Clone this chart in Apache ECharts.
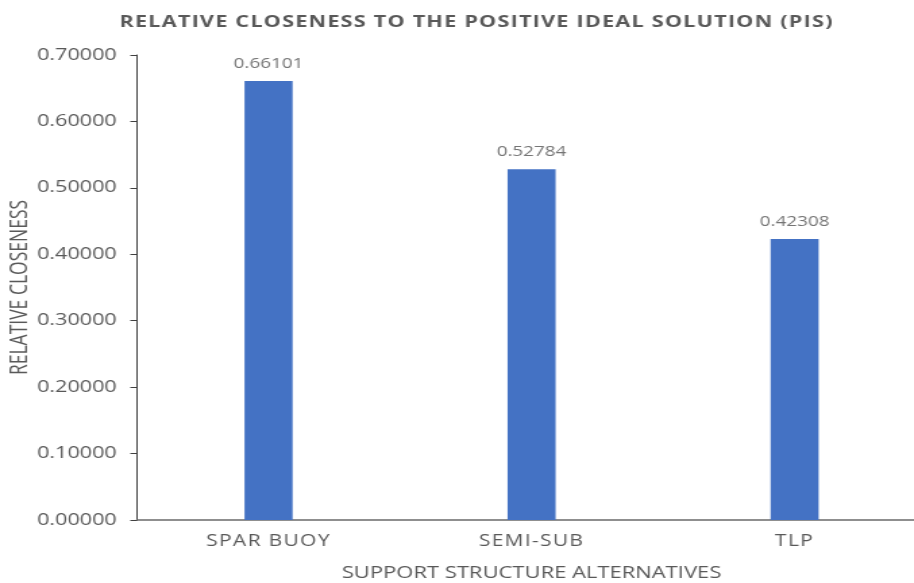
<!DOCTYPE html>
<html>
<head>
<meta charset="utf-8">
<script src="https://cdn.jsdelivr.net/npm/echarts@6/dist/echarts.min.js"></script>
<style>
html,body{margin:0;padding:0;background:#fff;overflow:hidden;width:914px;height:583px;}
#c{width:686px;height:583px;transform:scaleX(1.35);transform-origin:0 0;}
</style>
</head>
<body>
<div id="c"></div>
<script>
const titleText = 'RELATIVE CLOSENESS TO THE POSITIVE IDEAL SOLUTION (PIS)';
const categories = ['SPAR BUOY', 'SEMI-SUB', 'TLP'];
const closeness = [0.66101, 0.52784, 0.42308];
const yTicks = { min: 0, max: 0.7, interval: 0.1 };
const xName = 'SUPPORT STRUCTURE ALTERNATIVES';
const yName = 'RELATIVE CLOSENESS';

// slight letter spacing for the title and the category labels
(function () {
  const proto = CanvasRenderingContext2D.prototype;
  const orig = proto.fillText;
  proto.fillText = function (t, x, y, mw) {
    const has = ('letterSpacing' in this);
    const spaced = has && (t === titleText || categories.indexOf(t) >= 0);
    if (has) this.letterSpacing = spaced ? (t === titleText ? '0.9px' : '1px') : '0px';
    if (mw === undefined) orig.call(this, t, x, y); else orig.call(this, t, x, y, mw);
    if (has) this.letterSpacing = '0px';
  };
})();

const chart = echarts.init(document.getElementById('c'), null, { renderer: 'canvas' });
const font = 'Open Sans';
chart.setOption({
  animation: false,
  backgroundColor: '#ffffff',
  title: {
    text: titleText,
    left: 348,
    top: 9,
    textAlign: 'center',
    textStyle: { fontFamily: font, fontWeight: 'bold', fontSize: 16, color: '#595959' }
  },
  grid: { left: 101.5, right: 0, top: 55, bottom: 63, containLabel: false, outerBoundsMode: 'none' },
  xAxis: {
    type: 'category',
    data: categories,
    name: xName,
    nameLocation: 'middle',
    nameGap: 45,
    nameMoveOverlap: false,
    nameTextStyle: { fontFamily: font, fontSize: 16.3, color: '#595959' },
    axisLine: { show: true, lineStyle: { color: '#6b6b6b', width: 1.5 } },
    axisTick: { show: false },
    axisLabel: { margin: 14, fontFamily: font, fontSize: 15.5, color: '#595959' },
    splitLine: { show: false }
  },
  yAxis: {
    type: 'value',
    min: yTicks.min,
    max: yTicks.max,
    interval: yTicks.interval,
    name: yName,
    nameLocation: 'middle',
    nameRotate: 90,
    nameGap: 77,
    nameMoveOverlap: false,
    nameTextStyle: { fontFamily: font, fontSize: 17.5, color: '#595959' },
    axisLine: { show: true, lineStyle: { color: '#404040', width: 1 } },
    axisTick: { show: true, length: 5, inside: false, lineStyle: { color: '#404040', width: 1 } },
    axisLabel: { margin: 15, fontFamily: font, fontSize: 16, color: '#595959',
      formatter: v => v.toFixed(5) },
    splitLine: { show: false }
  },
  series: [{
    type: 'bar',
    data: closeness,
    barWidth: 35.6,
    itemStyle: { color: '#4472C4' },
    label: {
      show: true, position: 'top', distance: 10,
      fontFamily: font, fontSize: 14, color: '#757575',
      formatter: p => p.value.toFixed(5)
    }
  }]
});
</script>
</body>
</html>
